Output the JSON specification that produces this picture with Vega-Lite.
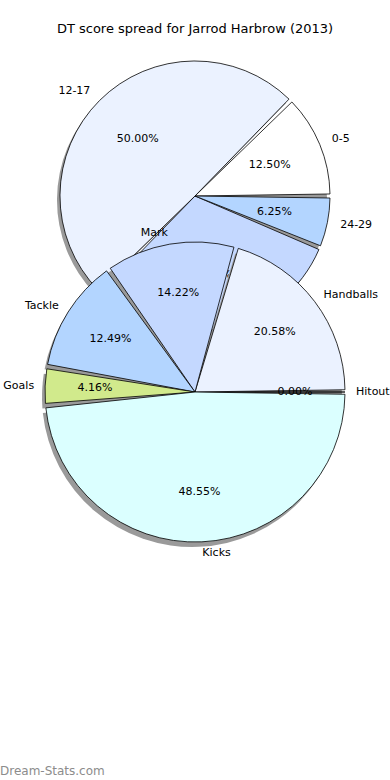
{
  "$schema": "https://vega.github.io/schema/vega-lite/v6.json",
  "width": 390,
  "height": 780,
  "autosize": {"type": "fit", "contains": "padding"},
  "padding": {"left": 0, "right": 0, "top": 23, "bottom": 0},
  "background": "white",
  "view": {"stroke": null},
  "title": {
    "text": "DT score spread for Jarrod Harbrow (2013)",
    "font": "DejaVu Sans",
    "fontSize": 13,
    "fontWeight": "normal",
    "color": "black",
    "anchor": "middle",
    "offset": 10
  },
  "config": {"text": {"font": "DejaVu Sans"}},
  "layer": [
    {
      "data": {
        "values": [
          {"chart": "score", "cat": "0-5", "idx": 1, "share": 0.125},
          {"chart": "score", "cat": "12-17", "idx": 2, "share": 0.5},
          {"chart": "score", "cat": "18-23", "idx": 3, "share": 0.3125},
          {"chart": "score", "cat": "24-29", "idx": 4, "share": 0.0625},
          {"chart": "stat", "cat": "Hitout", "idx": 0, "share": 0},
          {"chart": "stat", "cat": "Handballs", "idx": 1, "share": 0.2058},
          {"chart": "stat", "cat": "Mark", "idx": 2, "share": 0.1422},
          {"chart": "stat", "cat": "Tackle", "idx": 3, "share": 0.1249},
          {"chart": "stat", "cat": "Goals", "idx": 4, "share": 0.0416},
          {"chart": "stat", "cat": "Kicks", "idx": 5, "share": 0.4855}
        ]
      },
      "encoding": {
        "theta": {
          "field": "share",
          "type": "quantitative",
          "stack": true,
          "scale": {"domain": [0, 1], "range": [1.5707963, -4.712389]}
        },
        "order": {"field": "idx", "type": "quantitative"},
        "y": {
          "field": "chart",
          "type": "nominal",
          "scale": {"type": "point", "domain": ["score", "stat"], "range": [150, 346], "padding": 0},
          "axis": null
        }
      },
      "layer": [
        {
          "transform": [{"filter": "datum.chart == 'score'"}],
          "mark": {"type": "arc", "outerRadius": 135, "padAngle": 0.03, "fill": "#9a9a9a", "xOffset": -3, "yOffset": 4}
        },
        {
          "transform": [{"filter": "datum.chart == 'score'"}],
          "mark": {"type": "arc", "outerRadius": 135, "padAngle": 0.03, "stroke": "black", "strokeWidth": 0.8},
          "encoding": {
            "color": {
              "field": "cat",
              "type": "nominal",
              "legend": null,
              "scale": {
                "domain": ["0-5", "12-17", "18-23", "24-29", "Hitout", "Handballs", "Mark", "Tackle", "Goals", "Kicks"],
                "range": ["#ffffff", "#ebf2ff", "#c4d8ff", "#b3d5ff", "#ffffff", "#ebf2ff", "#c4d8ff", "#b3d5ff", "#d1ea8c", "#dbffff"]
              }
            }
          }
        },
        {
          "transform": [{"filter": "datum.chart == 'score'"}],
          "mark": {
            "type": "text",
            "radius": 148,
            "fontSize": 11,
            "baseline": "middle",
            "color": "black",
            "align": {"expr": "(datum.share_start + datum.share_end) / 2 > 0.25 && (datum.share_start + datum.share_end) / 2 < 0.75 ? 'right' : 'left'"}
          },
          "encoding": {"text": {"field": "cat"}}
        },
        {
          "transform": [{"filter": "datum.chart == 'score'"}],
          "mark": {"type": "text", "radius": 81, "fontSize": 11, "baseline": "middle", "align": "center", "color": "black"},
          "encoding": {"text": {"field": "share", "type": "quantitative", "format": ".2%"}}
        },
        {
          "transform": [{"filter": "datum.chart == 'stat'"}],
          "mark": {"type": "arc", "outerRadius": 150, "padAngle": 0.03, "fill": "#9a9a9a", "xOffset": -3, "yOffset": 5}
        },
        {
          "transform": [{"filter": "datum.chart == 'stat'"}],
          "mark": {"type": "arc", "outerRadius": 150, "padAngle": 0.03, "stroke": "black", "strokeWidth": 0.8},
          "encoding": {
            "color": {"field": "cat", "type": "nominal", "legend": null}
          }
        },
        {
          "transform": [{"filter": "datum.chart == 'stat'"}],
          "mark": {
            "type": "text",
            "radius": 161,
            "fontSize": 11,
            "baseline": "middle",
            "color": "black",
            "align": {"expr": "(datum.share_start + datum.share_end) / 2 > 0.25 && (datum.share_start + datum.share_end) / 2 < 0.75 ? 'right' : 'left'"}
          },
          "encoding": {"text": {"field": "cat"}}
        },
        {
          "transform": [{"filter": "datum.chart == 'stat'"}],
          "mark": {"type": "text", "radius": 100, "fontSize": 11, "baseline": "middle", "align": "center", "color": "black"},
          "encoding": {"text": {"field": "share", "type": "quantitative", "format": ".2%"}}
        }
      ]
    },
    {
      "data": {"values": [{"site": "Dream-Stats.com"}]},
      "mark": {
        "type": "text",
        "x": 0,
        "y": {"expr": "height - 9"},
        "align": "left",
        "baseline": "middle",
        "fontSize": 12,
        "fontWeight": "normal",
        "color": "#8c8c8c"
      },
      "encoding": {"text": {"field": "site"}}
    }
  ]
}
